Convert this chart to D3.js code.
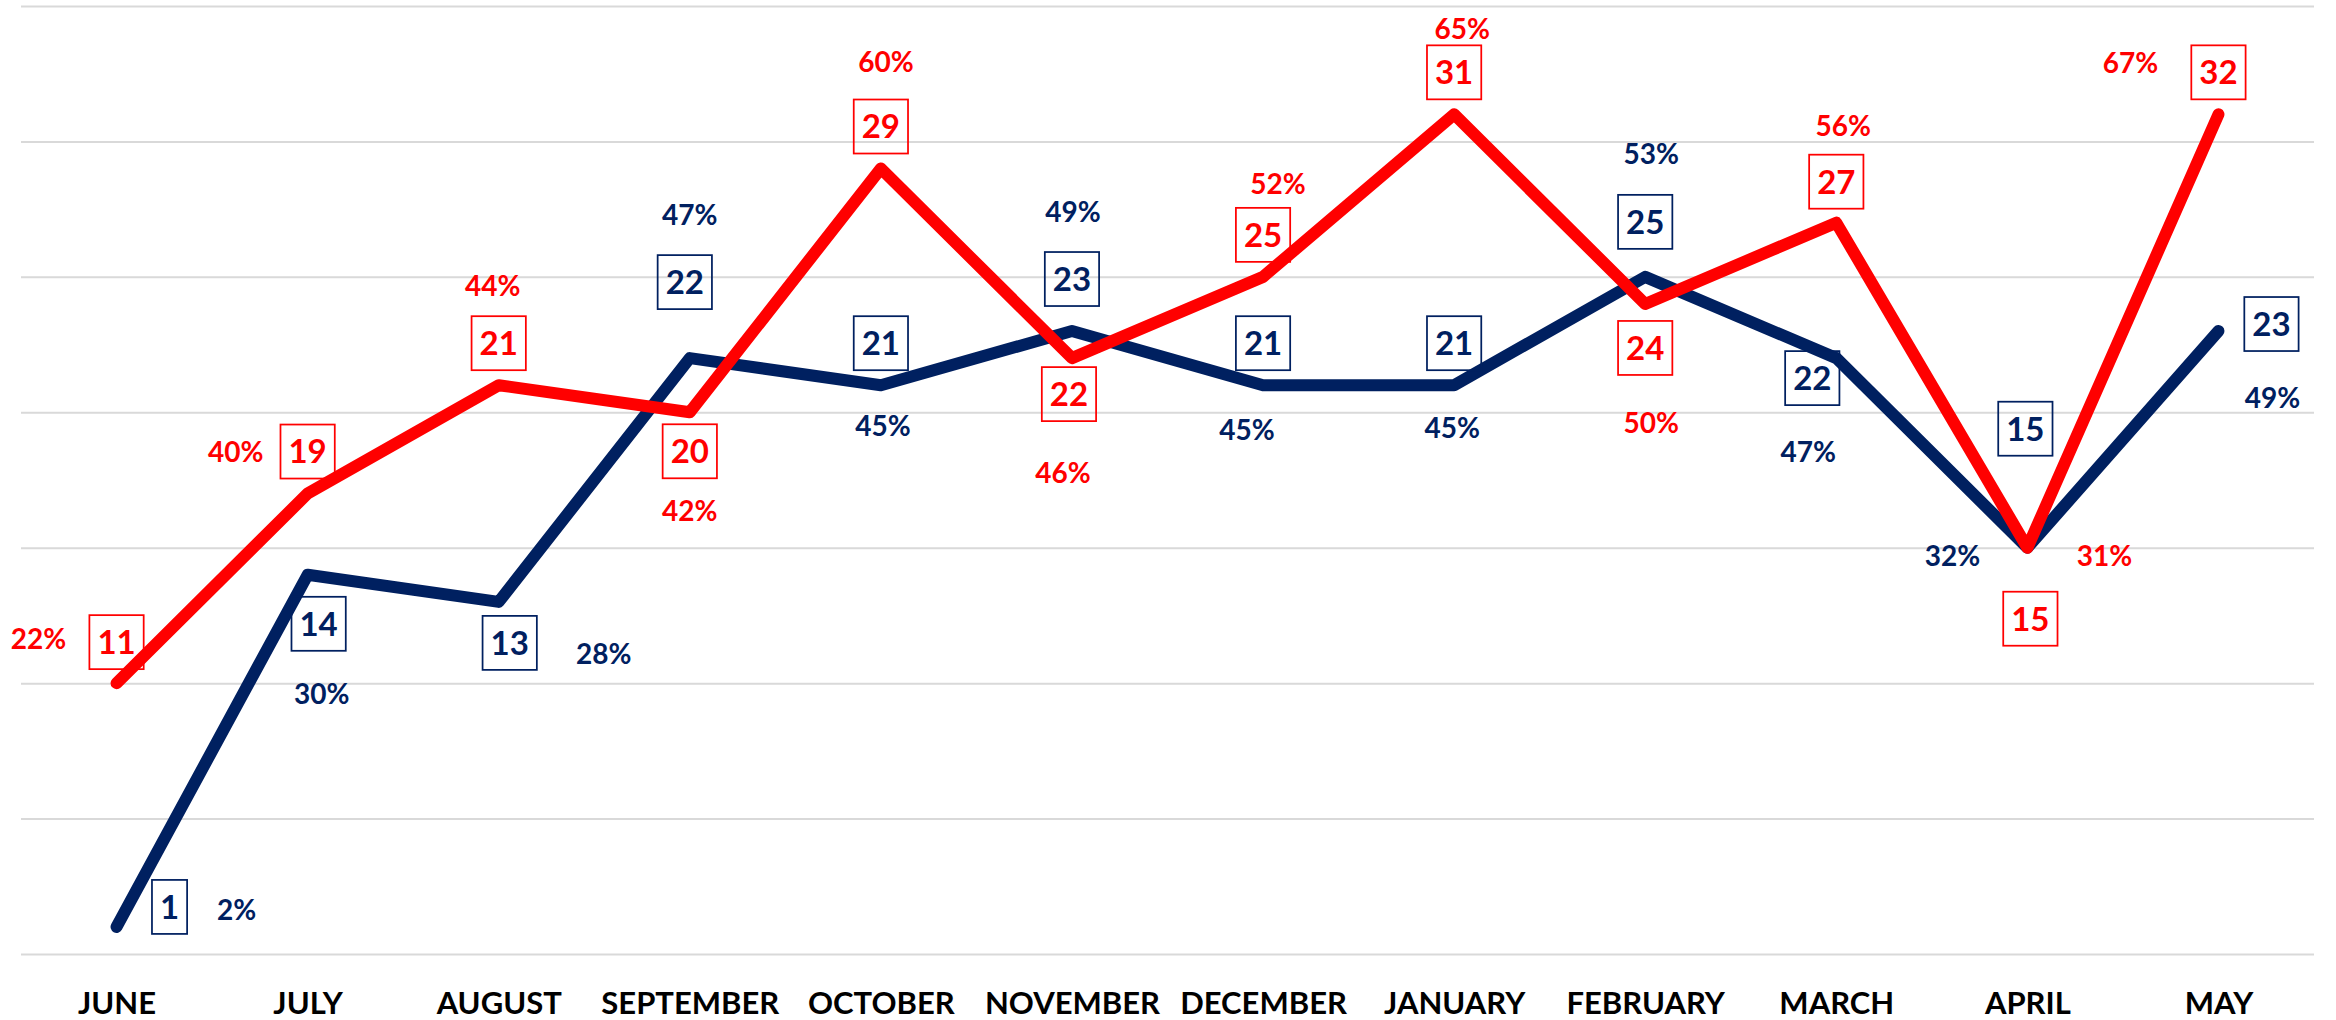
<!DOCTYPE html>
<html>
<head>
<meta charset="utf-8">
<script src="https://cdn.jsdelivr.net/npm/d3@7"></script>
<style>
  html, body { margin: 0; padding: 0; background: #ffffff; }
  svg { display: block; }
</style>
</head>
<body>
<svg id="chart" width="2336" height="1020"></svg>
<script>
// ---- Data ----
const months = ["JUNE","JULY","AUGUST","SEPTEMBER","OCTOBER","NOVEMBER","DECEMBER","JANUARY","FEBRUARY","MARCH","APRIL","MAY"];
// navy series
const blueValues = [1, 14, 13, 22, 21, 23, 21, 21, 25, 22, 15, 23];
const blueLabels = ["1","14","13","22","21","23","21","21","25","22","15","23"];
const bluePct    = ["2%","30%","28%","47%","45%","49%","45%","45%","53%","47%","32%","49%"];
// red series (plotted values as drawn; labels as printed)
const redValues  = [10, 17, 21, 20, 29, 22, 25, 31, 24, 27, 15, 31];
const redLabels  = ["11","19","21","20","29","22","25","31","24","27","15","32"];
const redPct     = ["22%","40%","44%","42%","60%","46%","52%","65%","50%","56%","31%","67%"];
const yTicks = [0, 5, 10, 15, 20, 25, 30, 35];

// ---- Label layout (offsets from each point, px) ----
const blueBoxOff = [[53,-20],[11,49],[11,41],[-5,-76],[0,-42],[0,-52],[0,-42],[0,-42],[0,-55],[-24,20],[-2,-119],[53,-7]];
const bluePctOff = [[120,-17],[14,119],[105,52],[0,-143],[2,41],[1,-119],[-16,45],[-2,43],[6,-123],[-28,94],[-75,8],[54,67]];
const redBoxOff  = [[0,-41],[0,-42],[0,-42],[0,39],[0,-42],[-3,36],[0,-42],[0,-42],[0,44],[0,-41],[3,71],[0,-42]];
const redPctOff  = [[-78,-44],[-72,-42],[-6,-99],[0,99],[5,-107],[-9,115],[15,-93],[8,-85],[6,119],[7,-97],[77,8],[-88,-51]];

const NAVY = "#002060", RED = "#ff0000";
const FONT = "Lato, 'Open Sans', sans-serif";

const svg = d3.select("#chart");
const mLeft = 21, mRight = 2314, mTop = 6, mBottom = 954;

const x = d3.scalePoint().domain(months).range([mLeft, mRight]).padding(0.5);
const y = d3.scaleLinear().domain([0, 35]).range([mBottom, mTop]);

// gridlines
const grid = svg.append("g").attr("transform", `translate(${mLeft},0)`)
  .call(d3.axisLeft(y).tickValues(yTicks).tickSize(-(mRight - mLeft)).tickFormat(""));
grid.select(".domain").remove();
grid.selectAll(".tick line").attr("stroke", "#d9d9d9").attr("stroke-width", 2);

// month axis
const xa = svg.append("g").attr("transform", `translate(0,${mBottom})`)
  .call(d3.axisBottom(x).tickSize(0).tickPadding(0));
xa.select(".domain").remove();
xa.selectAll(".tick text")
  .attr("y", 60).attr("dy", 0)
  .attr("fill", "#000")
  .style("font-family", FONT).style("font-weight", 700).style("font-size", "31px");

// lines
const line = d3.line().x((d, i) => x(months[i])).y(d => y(d));
svg.append("path").datum(blueValues).attr("d", line)
  .attr("fill", "none").attr("stroke", NAVY).attr("stroke-width", 12)
  .attr("stroke-linejoin", "round").attr("stroke-linecap", "round");
svg.append("path").datum(redValues).attr("d", line)
  .attr("fill", "none").attr("stroke", RED).attr("stroke-width", 12)
  .attr("stroke-linejoin", "round").attr("stroke-linecap", "round");

function drawLabels(values, labels, pcts, boxOff, pctOff, color) {
  const g = svg.append("g");
  values.forEach((v, i) => {
    const px = x(months[i]), py = y(v);
    const bx = px + boxOff[i][0], by = py + boxOff[i][1];
    const fs = 33;
    const bg = g.append("g");
    const rect = bg.append("rect");
    const t = bg.append("text")
      .attr("x", bx).attr("y", by + fs * 0.36)
      .attr("text-anchor", "middle")
      .attr("fill", color)
      .style("font-family", FONT).style("font-weight", 700).style("font-size", fs + "px")
      .text(labels[i]);
    const w = t.node().getComputedTextLength() + 16;
    const h = 54;
    rect.attr("x", bx - w / 2).attr("y", by - h / 2).attr("width", w).attr("height", h)
      .attr("fill", "none").attr("stroke", color).attr("stroke-width", 1.75);
    const fp = 28;
    g.append("text")
      .attr("x", px + pctOff[i][0]).attr("y", py + pctOff[i][1] + fp * 0.36)
      .attr("text-anchor", "middle")
      .attr("fill", color)
      .style("font-family", FONT).style("font-weight", 700).style("font-size", fp + "px")
      .text(pcts[i]);
  });
}
drawLabels(blueValues, blueLabels, bluePct, blueBoxOff, bluePctOff, NAVY);
drawLabels(redValues, redLabels, redPct, redBoxOff, redPctOff, RED);
</script>
</body>
</html>
